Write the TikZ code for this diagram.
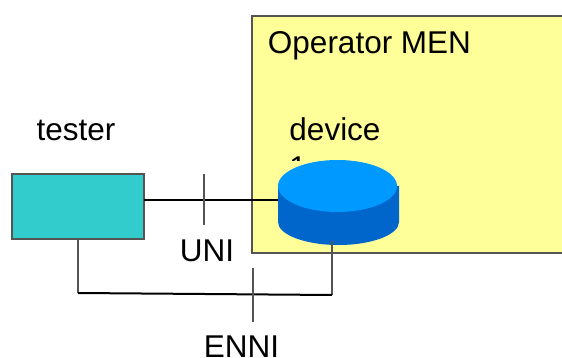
\documentclass[tikz,border=0pt]{standalone}
\usepackage{fontspec}
\setmainfont{Liberation Sans}
\usetikzlibrary{shapes.geometric}
\definecolor{LineClr}{rgb}{0.33,0.33,0.33}
\definecolor{NetClr}{rgb}{1,1,0.6}
\definecolor{TesterClr}{rgb}{0.2,0.8,0.8}
\definecolor{DiskTopClr}{rgb}{0,0.6,1}
\definecolor{DiskSideClr}{rgb}{0,0.4,0.8}
\tikzset{
  lbl/.style={anchor=base,inner sep=0pt,font=\fontsize{31.5}{31.5}\selectfont},
  grayline/.style={draw=LineClr,line width=2pt},
  blackline/.style={draw=black,line width=2pt}
}

\begin{document}
\begin{tikzpicture}[x=1pt,y=-1pt]
\useasboundingbox (0,0) rectangle (562,358);

\fill[NetClr] (252,16) rectangle (562,253);
\draw[grayline] (562,16) -- (252,16) -- (252,253) -- (562,253);

\node[lbl] (men) at (369.5,53.5) {Operator MEN};
\node[lbl] (testerlbl) at (76,141) {tester};
\node[lbl] (devicelbl) at (335,140.5) {device};
\begin{scope}
\clip (280,150) rectangle (310,160.5);
\node[lbl,anchor=base west] (devicenum) at (289,178.5) {1};
\end{scope}
\node[lbl] (unilbl) at (207,261) {UNI};
\node[lbl] (ennilbl) at (241.5,357) {ENNI};

\node[draw=LineClr,line width=2pt,fill=TesterClr,minimum width=132pt,minimum height=65pt,inner sep=0pt,outer sep=0pt] (tester) at (78,206.5) {};

\fill[DiskSideClr] (278,186) -- (278,222) arc[start angle=180,end angle=0,x radius=60.5,y radius=23] -- (399,186) -- cycle;
\node[ellipse,fill=DiskTopClr,minimum width=119pt,minimum height=52pt,inner sep=0pt,outer sep=0pt] (device) at (337.5,186) {};

\coordinate (uniy) at (0,200);
\coordinate (corner1) at (tester.south |- 0,293);
\coordinate (corner2) at (332,295);
\coordinate (devicefoot) at (332,241);
\coordinate (unitop) at (204,174);
\coordinate (unibot) at (204,225);
\coordinate (ennitop) at (253,268);
\coordinate (ennibot) at (253,322);

\draw[blackline] (tester.east |- uniy) -- (device.west |- uniy);
\draw[grayline] (unitop) -- (unibot);

\draw[grayline] (tester.south) -- (corner1);
\draw[grayline] (devicefoot) -- (corner2);
\draw[blackline] (corner1) -- (corner2);
\draw[grayline] (ennitop) -- (ennibot);

\end{tikzpicture}
\end{document}
